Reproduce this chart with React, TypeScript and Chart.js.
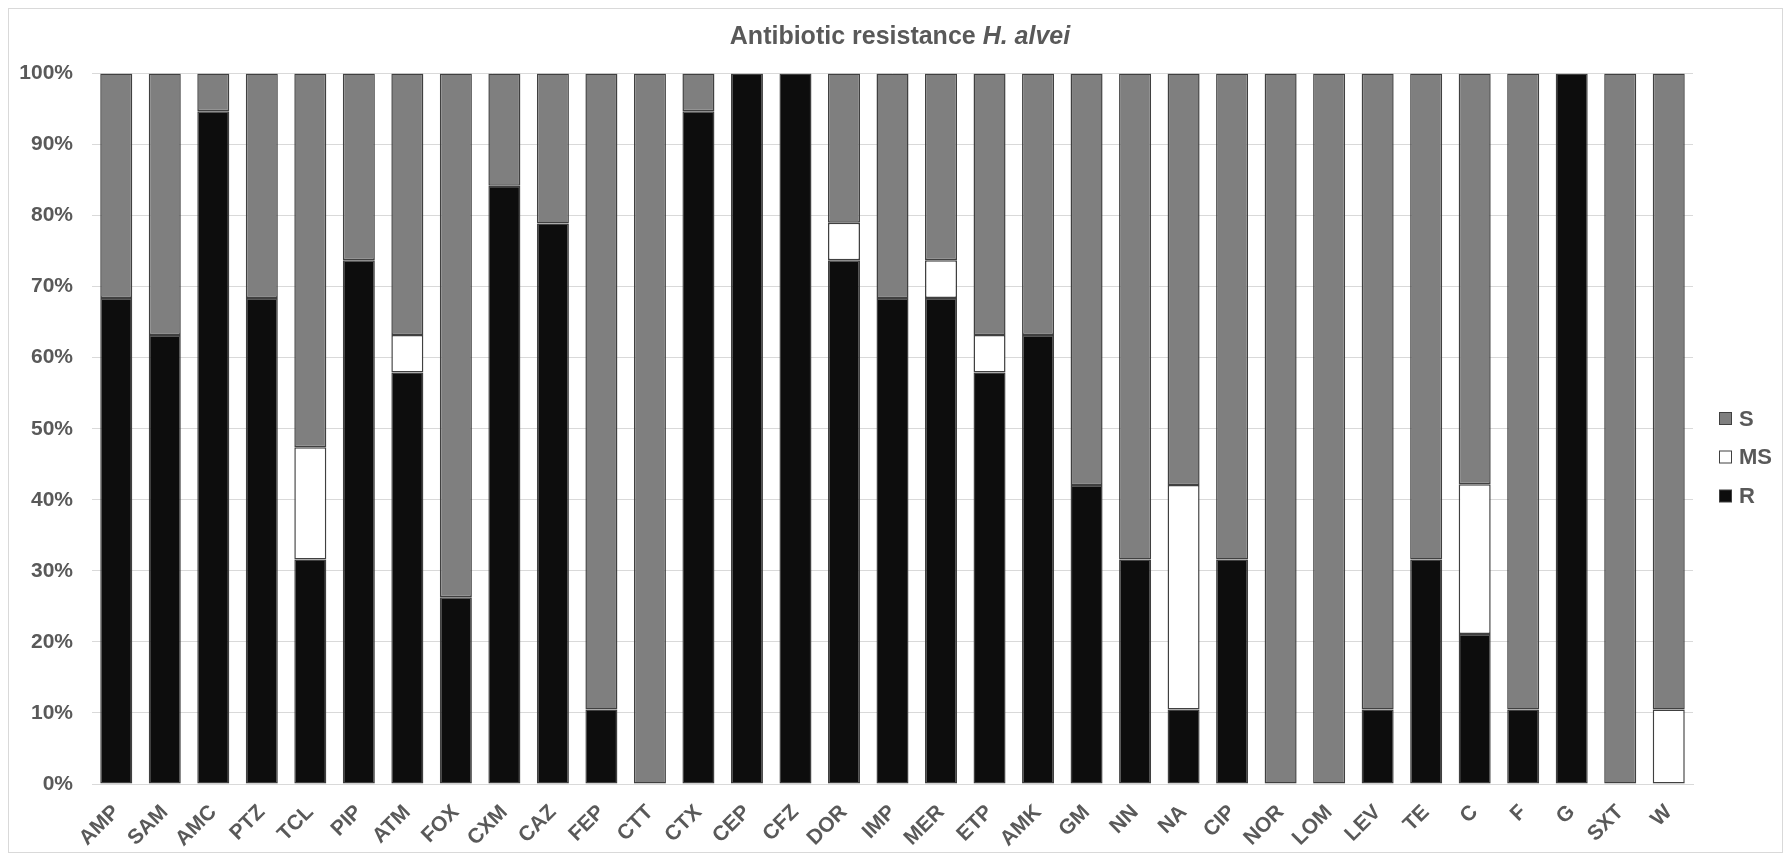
import React, { useEffect, useRef } from "react";
import { Chart, registerables } from "chart.js";

Chart.register(...registerables);

const categories = [
  "AMP", "SAM", "AMC", "PTZ", "TCL", "PIP", "ATM", "FOX", "CXM", "CAZ", "FEP",
  "CTT", "CTX", "CEP", "CFZ", "DOR", "IMP", "MER", "ETP", "AMK", "GM", "NN",
  "NA", "CIP", "NOR", "LOM", "LEV", "TE", "C", "F", "G", "SXT", "W",
];

const rValues = [
  68.4, 63.2, 94.7, 68.4, 31.6, 73.7, 57.9, 26.3, 84.2, 78.9, 10.5,
  0, 94.7, 100, 100, 73.7, 68.4, 68.4, 57.9, 63.2, 42.1, 31.6,
  10.5, 31.6, 0, 0, 10.5, 31.6, 21.1, 10.5, 100, 0, 0,
];

const msValues = [
  0, 0, 0, 0, 15.8, 0, 5.3, 0, 0, 0, 0,
  0, 0, 0, 0, 5.3, 0, 5.3, 5.3, 0, 0, 0,
  31.6, 0, 0, 0, 0, 0, 21.1, 0, 0, 0, 10.5,
];

const sValues = [
  31.6, 36.8, 5.3, 31.6, 52.6, 26.3, 36.8, 73.7, 15.8, 21.1, 89.5,
  100, 5.3, 0, 0, 21.0, 31.6, 26.3, 36.8, 36.8, 57.9, 68.4,
  57.9, 68.4, 100, 100, 89.5, 68.4, 57.8, 89.5, 0, 100, 89.5,
];

const seriesNames = ["R", "MS", "S"];
const seriesColors = ["#0d0d0d", "#ffffff", "#7f7f7f"];
const titleMain = "Antibiotic resistance ";
const titleItalic = "H. alvei";

const FONT = "'Liberation Sans', Arial, sans-serif";
const TEXT = "#595959";
const BORDER = "#404040";
const GRID = "#d9d9d9";

const W = 1773;
const H = 843;

const titlePlugin = {
  id: "mixedTitle",
  afterDraw(chart: any) {
    const ctx = chart.ctx;
    ctx.save();
    ctx.fillStyle = TEXT;
    ctx.textBaseline = "alphabetic";
    ctx.textAlign = "left";
    const f1 = `bold 25px ${FONT}`;
    const f2 = `italic bold 25px ${FONT}`;
    ctx.font = f1;
    const w1 = ctx.measureText(titleMain).width;
    ctx.font = f2;
    const w2 = ctx.measureText(titleItalic).width;
    const x0 = 891 - (w1 + w2) / 2;
    ctx.font = f1;
    ctx.fillText(titleMain, x0, 35);
    ctx.font = f2;
    ctx.fillText(titleItalic, x0 + w1, 35);
    ctx.restore();
  },
};

const legendPlugin = {
  id: "sideLegend",
  afterDraw(chart: any) {
    const ctx = chart.ctx;
    ctx.save();
    const order = [2, 1, 0];
    const centers = [409.5, 448, 487];
    order.forEach((di, i) => {
      const ds = chart.data.datasets[di];
      const cy = centers[i];
      ctx.fillStyle = ds.backgroundColor;
      ctx.fillRect(1710.5, cy - 6, 12, 12);
      ctx.strokeStyle = BORDER;
      ctx.lineWidth = 1;
      ctx.strokeRect(1710.5, cy - 6, 12, 12);
      ctx.fillStyle = TEXT;
      ctx.font = `bold 22px ${FONT}`;
      ctx.textBaseline = "middle";
      ctx.textAlign = "left";
      ctx.fillText(ds.label, 1730, cy + 1);
    });
    ctx.restore();
  },
};

export default function App() {
  const ref = useRef<HTMLCanvasElement | null>(null);

  useEffect(() => {
    if (!ref.current) return;
    const chart = new Chart(ref.current, {
      type: "bar",
      data: {
        labels: categories,
        datasets: [rValues, msValues, sValues].map((vals, i) => ({
          label: seriesNames[i],
          data: vals,
          backgroundColor: seriesColors[i],
          borderColor: BORDER,
          borderWidth: 1.5,
          borderSkipped: false,
          barPercentage: 0.66,
          categoryPercentage: 1,
        })),
      },
      options: {
        animation: false,
        responsive: false,
        devicePixelRatio: 1,
        layout: { padding: { top: 64.5, right: 89, left: 0, bottom: 0 } },
        plugins: {
          legend: { display: false },
          title: { display: false },
          tooltip: { enabled: false },
        },
        scales: {
          x: {
            stacked: true,
            grid: { display: false, drawTicks: false },
            border: { display: true, color: GRID, width: 1 },
            ticks: {
              color: TEXT,
              font: { family: FONT, size: 21, weight: "bold" },
              minRotation: 45,
              maxRotation: 45,
              padding: 16,
              autoSkip: false,
            },
            afterFit(scale: any) {
              scale.height = 68;
            },
          },
          y: {
            stacked: true,
            min: 0,
            max: 100,
            grid: { color: GRID, drawTicks: false, lineWidth: 1 },
            border: { display: false },
            ticks: {
              stepSize: 10,
              color: TEXT,
              padding: 19,
              font: { family: FONT, size: 21, weight: "bold" },
              callback: (v: any) => `${v}%`,
            },
            afterFit(scale: any) {
              scale.width = 83;
            },
          },
        },
      },
      plugins: [titlePlugin, legendPlugin],
    });
    return () => chart.destroy();
  }, []);

  return (
    <div
      style={{
        width: 1775,
        height: 845,
        border: `1px solid ${GRID}`,
        boxSizing: "border-box",
        background: "#ffffff",
      }}
    >
      <canvas ref={ref} width={W} height={H} style={{ display: "block" }} />
    </div>
  );
}
